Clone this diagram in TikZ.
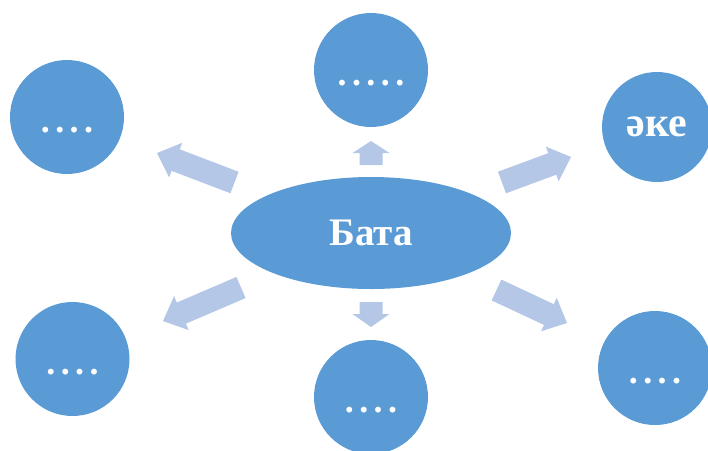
\documentclass[tikz,border=0pt]{standalone}
\usepackage{fontspec}
\setmainfont{Liberation Serif}
\usetikzlibrary{calc, shapes.geometric}
\definecolor{c1}{HTML}{5B9BD5}
\definecolor{c2}{HTML}{B4C7E7}

\begin{document}
\begin{tikzpicture}[
    x=1pt, y=-1pt,
    every node/.style={text=white},
    bubble/.style={circle, fill=c1, minimum size=114pt, inner sep=0pt},
    dots/.style={bubble, text height=31pt, text depth=0pt,
        font=\bfseries\fontsize{36}{36}\selectfont\addfontfeatures{LetterSpace=15}},
    word/.style={font=\bfseries\fontsize{42}{42}\selectfont},
    fat/.style={fill=c2},
]
\useasboundingbox (0,0) rectangle (708,450);

% ---------------- the middle
\node[ellipse, fill=c1, minimum width=280pt, minimum height=112pt, inner sep=0pt,
    font=\bfseries\fontsize{39}{39}\selectfont] (bata) at (371,233) {Бата};

% ---------------- round ones
\node[dots] (nw) at (67,117) {....};
\node[dots] (n) at (371,70) {.....};
\node[bubble, word, minimum size=110pt] (ne) at (657,127) {әке};
\node[dots] (sw) at (72.5,359) {....};
\node[dots] (s) at (371,397) {....};
\node[dots] (se) at (655,368) {....};

% ---------------- block arrows
\coordinate (nw-tail) at (234.5,182.5); \coordinate (nw-tip) at (157,153);
\coordinate (n-tail) at (371,165);      \coordinate (n-tip) at (371,141);
\coordinate (ne-tail) at (502,182.5);   \coordinate (ne-tip) at (571,157);
\coordinate (sw-tail) at (241,287.5);   \coordinate (sw-tip) at (163,321);
\coordinate (s-tail) at (371,302);      \coordinate (s-tip) at (371,327);
\coordinate (se-tail) at (496.5,290);   \coordinate (se-tip) at (567,323);
\foreach \a/\b/\headlen in {nw-tail/nw-tip/20, n-tail/n-tip/12, ne-tail/ne-tip/20,
                            sw-tail/sw-tip/20, s-tail/s-tip/13, se-tail/se-tip/20}{
    \coordinate (h) at ($(\b)!\headlen pt!(\a)$);
    \fill[fat] ($(\a)!11.5pt!90:(\b)$) -- ($(h)!11.5pt!90:(\b)$) -- ($(h)!18.5pt!90:(\b)$)
        -- (\b) -- ($(h)!18.5pt!-90:(\b)$) -- ($(h)!11.5pt!-90:(\b)$)
        -- ($(\a)!11.5pt!-90:(\b)$) -- cycle;
}
\end{tikzpicture}
\end{document}
